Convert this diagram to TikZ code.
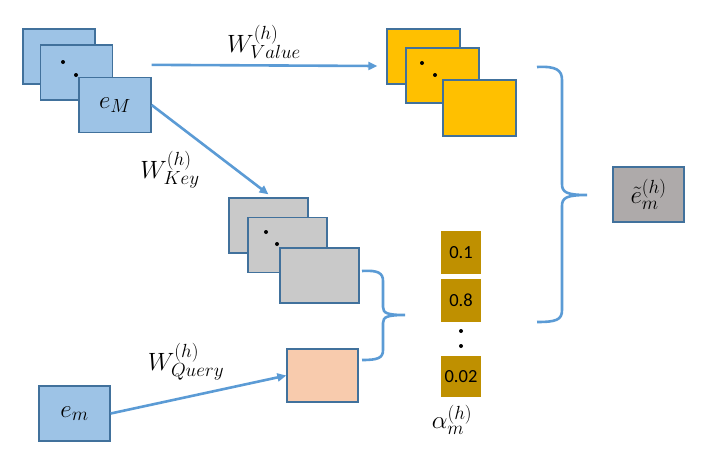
\RequirePackage{fix-cm}
\documentclass[tikz,border=0pt]{standalone}
\usepackage{fontspec}
\newfontfamily\numfont{Carlito}
\DeclareMathSizes{25}{25}{19}{15}
\usetikzlibrary{arrows.meta,calc}
\definecolor{bluefill}{HTML}{9DC3E6}
\definecolor{boxborder}{HTML}{41719C}
\definecolor{goldfill}{HTML}{FFC000}
\definecolor{grayfill}{HTML}{C9C9C9}
\definecolor{outfill}{HTML}{AEAAAA}
\definecolor{peach}{HTML}{F8CBAD}
\definecolor{alphafill}{HTML}{BF9000}
\definecolor{arrowblue}{HTML}{5B9BD5}
\tikzset{
  card/.style={draw=boxborder, line width=1.3pt, inner sep=0pt, minimum width=72pt, minimum height=55pt, font=\fontsize{25}{30}\selectfont},
  bluecard/.style={card, fill=bluefill},
  goldcard/.style={card, fill=goldfill, minimum width=73pt},
  graycard/.style={card, fill=grayfill, minimum width=79pt},
  alphabox/.style={fill=alphafill, inner sep=0pt, minimum width=40pt, minimum height=43pt, font=\numfont\fontsize{18.5}{22}\selectfont},
  arr/.style={draw=arrowblue, line width=2.6pt, -{Triangle[length=9pt,width=8pt]}},
  bracepath/.style={draw=arrowblue, line width=2.6pt},
  wlabel/.style={font=\fontsize{25}{30}\selectfont},
  dotm/.style={circle, fill=black, inner sep=0pt, minimum size=4pt}
}
\begin{document}
\begin{tikzpicture}[x=1pt,y=-1pt]
\useasboundingbox (0,0) rectangle (706,458);
% blue stack
\node[bluecard] (b1) at (59,56.5) {};
\node[bluecard] (b2) at (76.5,72.5) {};
\node[dotm] (bd1) at (63,62) {};
\node[dotm] (bd2) at (76,75) {};
\node[bluecard] (b3) at (115,105) {$e_M$};
% gold stack
\node[goldcard] (g1) at (423.5,56.5) {};
\node[goldcard] (g2) at (442.5,75.5) {};
\node[dotm] (gd1) at (422,63) {};
\node[dotm] (gd2) at (435,75) {};
\node[goldcard, minimum height=56pt] (g3) at (479.5,108) {};
% gray stack
\node[graycard] (k1) at (268.5,225.5) {};
\node[graycard] (k2) at (287.5,245) {};
\node[dotm] (kd1) at (266,232) {};
\node[dotm] (kd2) at (277,244) {};
\node[graycard] (k3) at (319.5,275.5) {};
% query
\node[card, fill=peach, minimum width=71pt, minimum height=53pt] (q) at (322.5,375.5) {};
% e_m
\node[bluecard, minimum width=71pt] (em) at (74.5,413.5) {$e_m$};
% output
\node[card, fill=outfill, minimum width=71pt] (o) at (648.5,194.5) {$\tilde{e}_m^{(h)}$};
% alpha column
\node[alphabox] (a1) at (461,252.5) {0.1};
\node[alphabox] (a2) at (461,300.5) {0.8};
\node[dotm] (ad1) at (461,331) {};
\node[dotm] (ad2) at (461,346) {};
\node[alphabox, minimum height=41pt] (a3) at (461,376.5) {0.02};
\node[wlabel] (al) at (452,420) {$\alpha_m^{(h)}$};
% arrows
\coordinate (vstart) at ($(b3.north east)+(0,-12)$);
\coordinate (vend) at ($(g1.west)+(-9,9.5)$);
\draw[arr] (vstart) -- (vend);
\node[wlabel] (wv) at (264,42) {$W_{Value}^{(h)}$};
\coordinate (kend) at ($(k1.north)+(0,-3)$);
\draw[arr] (b3.east) -- (kend);
\node[wlabel] (wk) at (170,170) {$W_{Key}^{(h)}$};
\draw[arr] (em.east) -- (q.west);
\node[wlabel] (wq) at (186,362) {$W_{Query}^{(h)}$};
% big brace
\coordinate (bt) at (537,67);
\coordinate (bb) at (537,322);
\coordinate (btip) at (587,195);
\draw[bracepath] (bt) .. controls (556,66) and (562,70) .. (562,80) -- (562,184)
  .. controls (562,192) and (566,195) .. (btip)
  .. controls (566,195) and (562,198) .. (562,206) -- (562,310)
  .. controls (562,320) and (556,322) .. (bb);
% small brace
\coordinate (st) at (362,271);
\coordinate (sb) at (362,360);
\coordinate (stip) at (405,315);
\draw[bracepath] (st) .. controls (378,270) and (383,273) .. (383,281) -- (383,307)
  .. controls (383,313) and (387,315) .. (stip)
  .. controls (387,315) and (383,317) .. (383,323) -- (383,350)
  .. controls (383,358) and (378,360) .. (sb);
\end{tikzpicture}
\end{document}
